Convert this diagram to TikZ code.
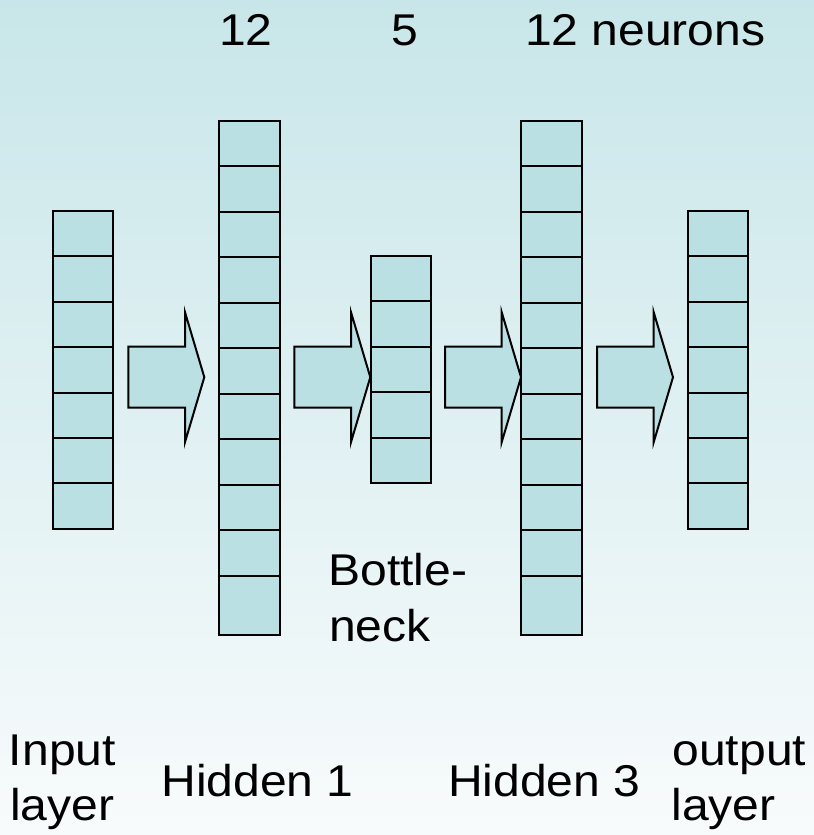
\documentclass[tikz,border=0pt]{standalone}
\usepackage{graphicx}
\usepackage{fontspec}
\setmainfont{Liberation Sans}
\definecolor{bgtop}{RGB}{200,230,233}
\definecolor{bgbot}{RGB}{248,251,252}
\definecolor{cellfill}{RGB}{187,224,227}
% labels are set slightly wider than the plain font
\newcommand\widetext[1]{\scalebox{1.08}[1]{#1}}
\begin{document}
\begin{tikzpicture}[x=1bp,y=-1bp,
  cell/.style={draw=black, fill=cellfill, line width=2bp, line join=miter},
  lbl/.style={inner sep=0pt, anchor=base west, font=\fontsize{44.5bp}{53bp}\selectfont},
  pics/blockarrow/.style={code={
    \draw[cell] (0,-30.5) -- (56.7,-30.5) -- (56.7,-65) -- (76,0)
      -- (56.7,65) -- (56.7,30.5) -- (0,30.5) -- cycle;}}]
  % background
  \shade[top color=bgtop, bottom color=bgbot] (0,0) rectangle (814,835);
  \useasboundingbox (0,0) rectangle (814,835);

  % input layer: 7 cells
  \foreach \i in {0,...,6}
    \draw[cell] (53,{211+\i*45.4}) rectangle (113,{256.4+\i*45.4});
  % hidden 1 and hidden 3: 10 regular cells and a taller last one
  \foreach \xl/\xr in {219/280, 521/582}{
    \foreach \i in {0,...,9}
      \draw[cell] (\xl,{120.5+\i*45.55}) rectangle (\xr,{166.05+\i*45.55});
    \draw[cell] (\xl,576) rectangle (\xr,635);
  }
  % bottleneck: 5 cells
  \foreach \i in {0,...,4}
    \draw[cell] (370.5,{256+\i*45.45}) rectangle (431,{301.45+\i*45.45});
  % output layer: 7 cells
  \foreach \i in {0,...,6}
    \draw[cell] (688,{211+\i*45.4}) rectangle (748,{256.4+\i*45.4});

  % block arrows between layers
  \pic at (128.3,377.2) {blockarrow};
  \pic at (294.3,377.2) {blockarrow};
  \pic at (445,377.2) {blockarrow};
  \pic at (597,377.2) {blockarrow};

  % neuron counts
  \node[lbl] (n1) at (218.8,45) {\widetext{12}};
  \node[lbl] (n2) at (391.5,45) {\widetext{5}};
  \node[lbl] (n3) at (524.8,45) {\widetext{12 neurons}};

  % bottleneck label
  \node[lbl] (bn1) at (328.1,585) {\widetext{Bottle-}};
  \node[lbl] (bn2) at (328.8,641.7) {\widetext{neck}};

  % layer names
  \node[lbl] (in1) at (8.8,765) {\widetext{Input}};
  \node[lbl] (in2) at (10.1,820) {\widetext{layer}};
  \node[lbl] (h1) at (161.2,796.7) {\widetext{Hidden 1}};
  \node[lbl] (h3) at (447.9,796.7) {\widetext{Hidden 3}};
  \node[lbl] (out1) at (672.3,765) {\widetext{output}};
  \node[lbl] (out2) at (671.3,820) {\widetext{layer}};
\end{tikzpicture}
\end{document}
